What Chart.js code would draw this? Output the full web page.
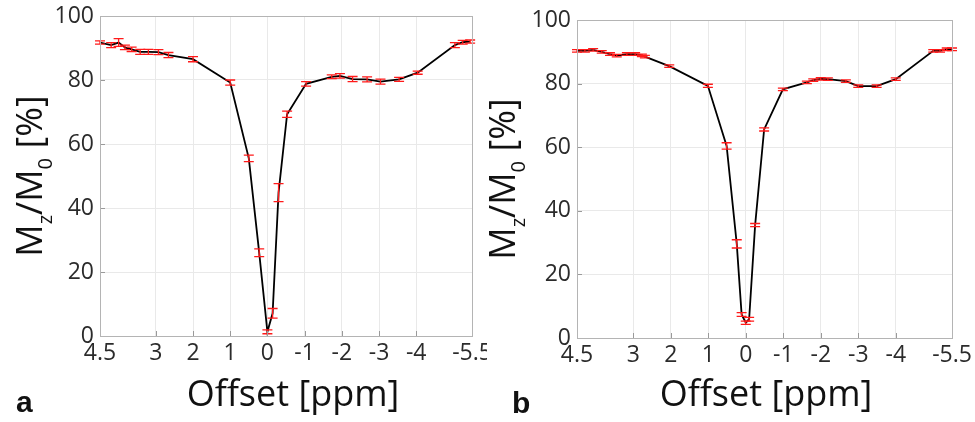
<!DOCTYPE html>
<html>
<head>
<meta charset="utf-8">
<script src="https://cdn.jsdelivr.net/npm/chart.js@4.4.1/dist/chart.umd.min.js"></script>
<style>
  html, body { margin: 0; padding: 0; background: #fff; }
  #wrap { position: relative; width: 975px; height: 422px; }
  canvas { position: absolute; top: 0; }
  #chartA { left: 0; }
  #chartB { left: 487px; }
</style>
</head>
<body>
<div id="wrap">
  <canvas id="chartA" width="487" height="422"></canvas>
  <canvas id="chartB" width="488" height="422"></canvas>
</div>
<script>
// axis ticks (x axis runs from 4.5 down to -5.5 ppm)
const xTicks = [4.5, 3, 2, 1, 0, -1, -2, -3, -4, -5.5];
const yTicks = [0, 20, 40, 60, 80, 100];

// panel a
const offsetsA = [4.5, 4.2, 4.0, 3.83, 3.65, 3.42, 3.2, 2.93, 2.66, 2.0, 1.0, 0.5, 0.22, 0.0, -0.14, -0.3, -0.53, -1.04, -1.73, -1.95, -2.29, -2.68, -3.04, -3.54, -4.04, -5.04, -5.25, -5.45];
const valuesA  = [91.7, 90.9, 91.7, 90.2, 89.6, 88.8, 88.8, 88.7, 87.8, 86.5, 79.2, 55.5, 26.0, 1.3, 7.1, 44.8, 69.3, 78.8, 81.0, 81.3, 80.3, 80.2, 79.5, 80.2, 82.3, 90.9, 91.8, 92.0];
const errorsA  = [0.5, 0.8, 1.2, 0.7, 0.7, 0.8, 0.8, 0.8, 0.8, 0.8, 0.8, 1.0, 1.2, 0.6, 1.5, 2.8, 1.0, 0.7, 0.6, 0.7, 0.8, 0.8, 0.8, 0.6, 0.5, 0.8, 0.6, 0.5];

// panel b
const offsetsB = [4.5, 4.29, 4.07, 3.84, 3.62, 3.44, 3.17, 2.95, 2.77, 2.69, 2.04, 1.01, 0.51, 0.24, 0.11, 0.0, -0.09, -0.25, -0.49, -0.99, -1.63, -1.8, -2.0, -2.19, -2.67, -3.0, -3.49, -4.0, -5.0, -5.18, -5.36, -5.5];
const valuesB  = [90.3, 90.3, 90.6, 90.0, 89.3, 88.8, 89.3, 89.3, 88.9, 88.5, 85.5, 79.3, 60.4, 29.6, 7.4, 4.8, 5.9, 35.5, 65.6, 78.2, 80.4, 81.1, 81.5, 81.4, 80.8, 79.2, 79.2, 81.4, 90.3, 90.3, 90.8, 90.8];
const errorsB  = [0.4, 0.4, 0.4, 0.4, 0.4, 0.4, 0.4, 0.4, 0.4, 0.4, 0.4, 0.5, 1.0, 1.3, 0.6, 0.5, 0.6, 0.5, 0.5, 0.4, 0.4, 0.4, 0.4, 0.4, 0.4, 0.4, 0.4, 0.4, 0.4, 0.4, 0.4, 0.4];

const tickFont = { family: "'Open Sans', sans-serif", size: 23 };

const errorBars = {
  id: 'errorBars',
  afterDatasetsDraw(chart, args, opts) {
    const ctx = chart.ctx;
    const xs = chart.scales.x, ys = chart.scales.y;
    ctx.save();
    ctx.strokeStyle = '#ff1a1a';
    ctx.lineWidth = 1.3;
    opts.offsets.forEach((o, i) => {
      const px = xs.getPixelForValue(o);
      const top = ys.getPixelForValue(opts.values[i] + opts.errors[i]);
      const bot = ys.getPixelForValue(opts.values[i] - opts.errors[i]);
      ctx.beginPath();
      ctx.moveTo(px, top); ctx.lineTo(px, bot);
      ctx.moveTo(px - 5, top); ctx.lineTo(px + 5, top);
      ctx.moveTo(px - 5, bot); ctx.lineTo(px + 5, bot);
      ctx.stroke();
    });
    ctx.restore();
  }
};

function drawYTitle(ctx, x, cy) {
  const big = "36px 'Open Sans', sans-serif";
  const small = "20px 'Open Sans', sans-serif";
  const parts = [['M', big, 0], ['z', small, 10], ['/', big, 0], ['M', big, 0], ['0', small, 10], [' [%]', big, 0]];
  let total = 0;
  parts.forEach(p => { ctx.font = p[1]; total += ctx.measureText(p[0]).width; });
  ctx.save();
  ctx.translate(x, cy);
  ctx.rotate(-Math.PI / 2);
  ctx.fillStyle = '#111';
  ctx.textBaseline = 'alphabetic';
  ctx.textAlign = 'left';
  let cx = -total / 2;
  parts.forEach(p => {
    ctx.font = p[1];
    ctx.fillText(p[0], cx, p[2]);
    cx += ctx.measureText(p[0]).width;
  });
  ctx.restore();
}

const decor = {
  id: 'decor',
  afterDraw(chart, args, opts) {
    const ctx = chart.ctx;
    const a = chart.chartArea;
    const xs = chart.scales.x, ys = chart.scales.y;
    ctx.save();
    // inward tick marks
    ctx.strokeStyle = '#9a9a9a';
    ctx.lineWidth = 1;
    ctx.beginPath();
    xTicks.forEach(t => {
      const px = Math.round(xs.getPixelForValue(t)) + 0.5;
      ctx.moveTo(px, a.bottom); ctx.lineTo(px, a.bottom - 5);
    });
    yTicks.forEach(t => {
      const py = Math.round(ys.getPixelForValue(t)) + 0.5;
      ctx.moveTo(a.left, py); ctx.lineTo(a.left + 5, py);
    });
    ctx.stroke();
    // box
    ctx.strokeStyle = '#b4b4b4';
    ctx.strokeRect(Math.round(a.left) + 0.5, Math.round(a.top) + 0.5, Math.round(a.right - a.left), Math.round(a.bottom - a.top));
    // x title
    ctx.fillStyle = '#111';
    ctx.font = "36px 'Open Sans', sans-serif";
    ctx.textAlign = 'center';
    ctx.textBaseline = 'alphabetic';
    ctx.fillText('Offset [ppm]', opts.xTitleX, opts.xTitleY);
    // panel letter
    ctx.font = "bold 30px 'Liberation Sans', Arial, sans-serif";
    ctx.textAlign = 'left';
    ctx.fillText(opts.letter, opts.letterX, opts.letterY);
    ctx.restore();
    drawYTitle(ctx, opts.yTitleX, (a.top + a.bottom) / 2);
  }
};

function makePanel(id, offsets, values, errors, lay) {
  const points = offsets.map((o, i) => ({ x: o, y: values[i] }));
  return new Chart(document.getElementById(id), {
    type: 'line',
    data: {
      datasets: [{
        data: points,
        borderColor: '#000',
        borderWidth: 1.8,
        pointRadius: 0,
        tension: 0,
        fill: false
      }]
    },
    options: {
      responsive: false,
      animation: false,
      layout: { autoPadding: false, padding: { left: 0, right: lay.padRight, top: lay.padTop, bottom: 0 } },
      plugins: {
        legend: { display: false },
        tooltip: { enabled: false },
        errorBars: { offsets, values, errors },
        decor: lay.decor
      },
      scales: {
        x: {
          type: 'linear',
          reverse: true,
          min: -5.5,
          max: 4.5,
          afterBuildTicks: s => { s.ticks = xTicks.map(v => ({ value: v })); },
          afterFit: s => { s.height = lay.xHeight; s.paddingLeft = 0; s.paddingRight = 0; },
          ticks: { font: tickFont, color: '#2b2b2b', padding: 4, maxRotation: 0, autoSkip: false, callback: v => String(v) },
          grid: { color: '#e9e9e9', drawTicks: false },
          border: { display: false }
        },
        y: {
          min: 0,
          max: 100,
          afterBuildTicks: s => { s.ticks = yTicks.map(v => ({ value: v })); },
          afterFit: s => { s.width = lay.yWidth; s.paddingTop = 0; s.paddingBottom = 0; },
          ticks: { font: tickFont, color: '#2b2b2b', padding: 6 },
          grid: { color: '#e9e9e9', drawTicks: false },
          border: { display: false }
        }
      }
    },
    plugins: [errorBars, decor]
  });
}

makePanel('chartA', offsetsA, valuesA, errorsA, {
  yWidth: 100, padRight: 15, padTop: 16, xHeight: 86,
  decor: { yTitleX: 42, xTitleX: 293, xTitleY: 406, letter: 'a', letterX: 16, letterY: 412 }
});
makePanel('chartB', offsetsB, valuesB, errorsB, {
  yWidth: 90, padRight: 23, padTop: 20, xHeight: 84,
  decor: { yTitleX: 28, xTitleX: 279, xTitleY: 406, letter: 'b', letterX: 25, letterY: 413 }
});
</script>
</body>
</html>
